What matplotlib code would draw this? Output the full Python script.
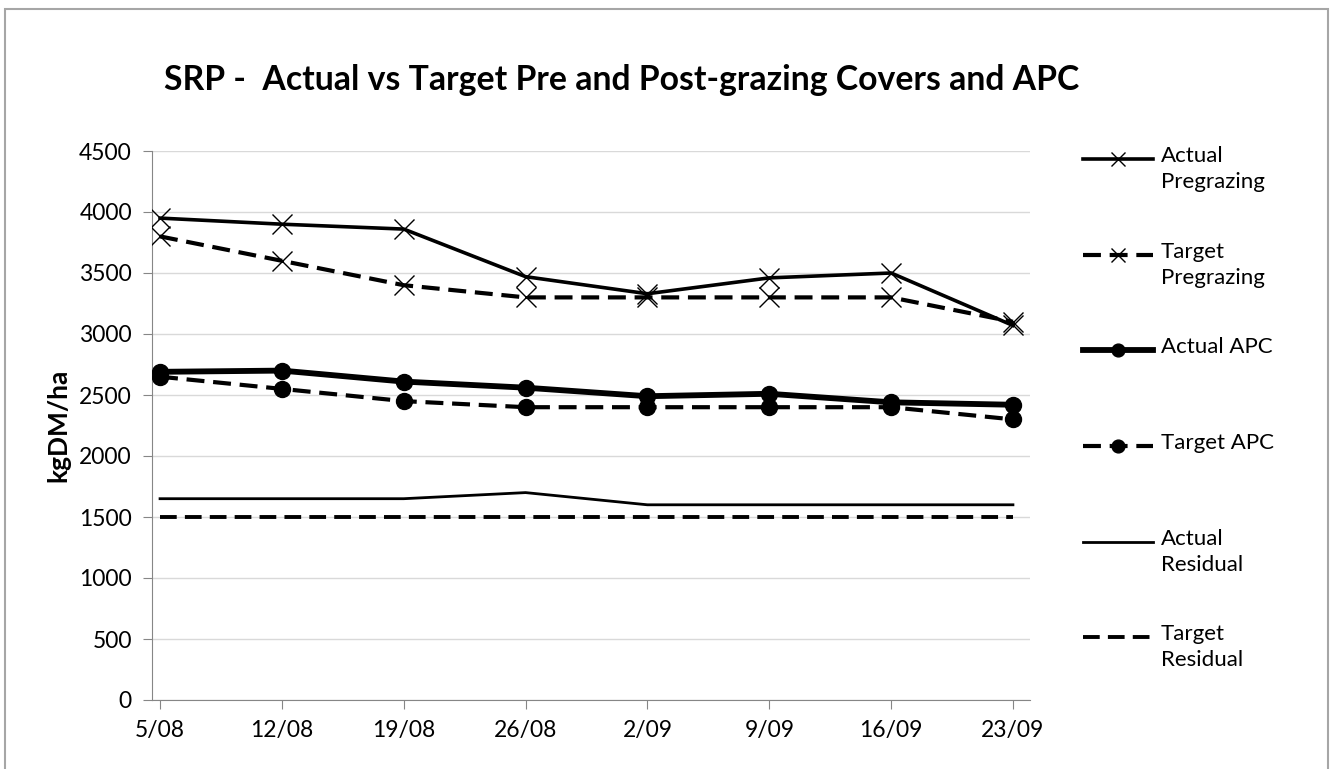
import matplotlib
matplotlib.use("Agg")
import matplotlib.pyplot as plt
from matplotlib.lines import Line2D
from matplotlib.patches import Rectangle

plt.rcParams['font.family'] = ['Lato', 'DejaVu Sans']

dates = ["5/08", "12/08", "19/08", "26/08", "2/09", "9/09", "16/09", "23/09"]
actual_pre = [3950, 3900, 3860, 3470, 3330, 3460, 3500, 3070]
target_pre = [3800, 3600, 3400, 3300, 3300, 3300, 3300, 3100]
actual_apc = [2690, 2700, 2610, 2560, 2490, 2510, 2440, 2420]
target_apc = [2650, 2550, 2450, 2400, 2400, 2400, 2400, 2300]
actual_res = [1650, 1650, 1650, 1700, 1600, 1600, 1600, 1600]
target_res = [1500, 1500, 1500, 1500, 1500, 1500, 1500, 1500]

W, H = 1332, 769
fig = plt.figure(figsize=(W / 100, H / 100), dpi=100)
ax = fig.add_axes([152 / W, 1 - 700 / H, (1030 - 152) / W, (700 - 151) / H])

x = range(len(dates))
dash = (4.3, 2.1)

# series styles, also reused for the legend
styles = [
    ("Actual\nPregrazing", actual_pre, dict(color="black", lw=2.6, marker="x", ms=14, mew=1.0)),
    ("Target\nPregrazing", target_pre, dict(color="black", lw=3.0, dashes=dash, marker="x", ms=14, mew=1.0)),
    ("Actual APC", actual_apc, dict(color="black", lw=4.2, marker="o", ms=11.5)),
    ("Target APC", target_apc, dict(color="black", lw=3.0, dashes=dash, marker="o", ms=11.5)),
    ("Actual\nResidual", actual_res, dict(color="black", lw=2.0)),
    ("Target\nResidual", target_res, dict(color="black", lw=2.8, dashes=dash)),
]

for label, vals, st in styles:
    ax.plot(x, vals, label=label, zorder=3, **st)

ax.set_ylim(0, 4500)
ax.set_yticks(range(0, 4501, 500))
ax.set_xlim(-0.066, 7.14)
ax.set_xticks(list(x))
ax.set_xticklabels(dates)
ax.grid(axis="y", color="#d9d9d9", lw=1)
ax.set_axisbelow(True)
for s in ["top", "right"]:
    ax.spines[s].set_visible(False)
for s in ["left", "bottom"]:
    ax.spines[s].set_color("#868686")
ax.tick_params(axis="both", direction="out", length=6.5, color="#868686",
               labelsize=16.5, pad=8)
ax.set_ylabel("kgDM/ha", fontsize=19, fontweight="bold", labelpad=6)

fig.text(622 / W, 1 - 80 / H, "SRP -  Actual vs Target Pre and Post-grazing Covers and APC",
         ha="center", va="center", fontsize=24.3, fontweight="bold")

# legend drawn by hand to match the evenly spaced entries
ys = [159, 255, 350, 446, 542, 637]
for (label, vals, st), yp in zip(styles, ys):
    yf = 1 - yp / H
    line_st = {k: v for k, v in st.items() if k not in ("marker", "ms", "mew")}
    fig.add_artist(Line2D([1083 / W, 1153 / W], [yf, yf], transform=fig.transFigure, **line_st))
    if "marker" in st:
        ms = st["ms"] * 0.75 if st["marker"] == "x" else st["ms"] * 0.8
        fig.add_artist(Line2D([1118 / W], [yf], transform=fig.transFigure, color="black",
                              marker=st["marker"], ms=ms, mew=st.get("mew", 1.0), lw=0))
    fig.text(1161 / W, yf + 13 / H, label, ha="left", va="top", fontsize=16,
             linespacing=1.35, transform=fig.transFigure)

fig.add_artist(Rectangle((5 / W, -0.05), (1328 - 5) / W, 1.05 - 9 / H, transform=fig.transFigure,
                         fill=False, edgecolor="#a6a6a6", lw=1.5))

fig.savefig("out.png", dpi=100)
